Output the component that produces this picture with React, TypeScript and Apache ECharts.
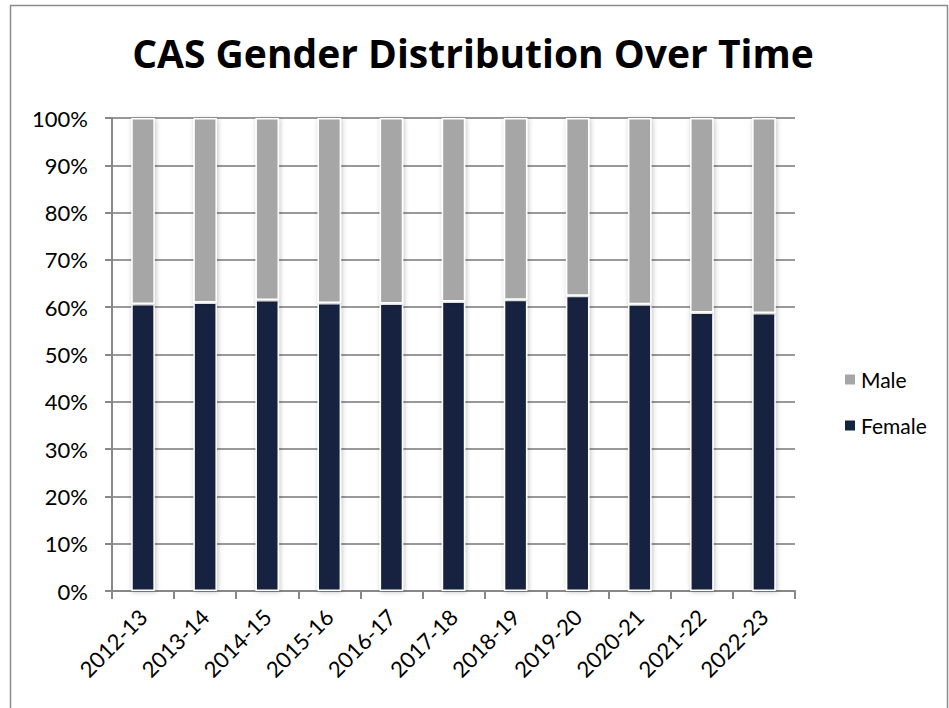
import React, { useEffect, useRef } from "react";
import * as echarts from "echarts";

const categories = ["2012-13", "2013-14", "2014-15", "2015-16", "2016-17", "2017-18", "2018-19", "2019-20", "2020-21", "2021-22", "2022-23"];
const femalePct = [60.7, 61.0, 61.5, 60.9, 60.8, 61.2, 61.6, 62.4, 60.6, 58.9, 58.8];
const malePct = [39.3, 39.0, 38.5, 39.1, 39.2, 38.8, 38.4, 37.6, 39.4, 41.1, 41.2];
const yTicks = { min: 0, max: 100, interval: 10 };

const FONT = "Lato, 'Open Sans', sans-serif";

export default function App() {
  const ref = useRef<HTMLDivElement>(null);
  useEffect(() => {
    document.body.style.margin = "0";
    const chart = echarts.init(ref.current!, undefined, { renderer: "svg" });
    const barStyle = (color: string) => ({
      color,
      borderColor: "#ffffff",
      borderWidth: 1.5,
      shadowBlur: 5,
      shadowColor: "rgba(0,0,0,0.25)",
      shadowOffsetX: 1,
      shadowOffsetY: 1,
    });
    chart.setOption({
      animation: false,
      backgroundColor: "#ffffff",
      title: {
        text: "CAS Gender Distribution Over Time",
        left: 468,
        textAlign: "center",
        top: 28,
        textStyle: { fontFamily: "'Open Sans', sans-serif", fontWeight: "bold", fontSize: 39, color: "#000" },
      },
      graphic: [
        {
          type: "rect",
          shape: { x: 10.5, y: 5.5, width: 937, height: 730 },
          style: { fill: "none", stroke: "#8c8c8c", lineWidth: 1.5 },
          silent: true,
        },
      ],
      legend: {
        orient: "vertical",
        left: 838,
        top: 364,
        itemGap: 25,
        itemWidth: 12,
        itemHeight: 12,
        icon: "rect",
        data: ["Male", "Female"],
        textStyle: { fontFamily: FONT, fontSize: 21, color: "#000" },
      },
      grid: { left: 112, right: 154, top: 118, bottom: 117 },
      xAxis: {
        type: "category",
        data: categories,
        boundaryGap: true,
        axisLine: { show: true, lineStyle: { color: "#888", width: 2 } },
        axisTick: { show: true, length: 8, lineStyle: { color: "#888", width: 2 } },
        axisLabel: { rotate: 45, margin: 22, fontFamily: FONT, fontSize: 22, color: "#000" },
      },
      yAxis: {
        type: "value",
        min: yTicks.min,
        max: yTicks.max,
        interval: yTicks.interval,
        axisLine: { show: true, lineStyle: { color: "#888", width: 2 } },
        axisTick: { show: true, length: 7, lineStyle: { color: "#888", width: 2 } },
        axisLabel: { formatter: "{value}%", margin: 24, fontFamily: FONT, fontSize: 22, color: "#000" },
        splitLine: { show: true, lineStyle: { color: "#999", width: 2 } },
      },
      series: [
        {
          name: "Female",
          type: "bar",
          stack: "total",
          data: femalePct,
          barWidth: "38%",
          itemStyle: barStyle("#12243f"),
        },
        {
          name: "Male",
          type: "bar",
          stack: "total",
          data: malePct,
          barWidth: "38%",
          itemStyle: barStyle("#a6a6a6"),
        },
      ],
    });
    return () => chart.dispose();
  }, []);
  return <div ref={ref} style={{ position: "absolute", left: 0, top: 0, width: 949, height: 708 }} />;
}
